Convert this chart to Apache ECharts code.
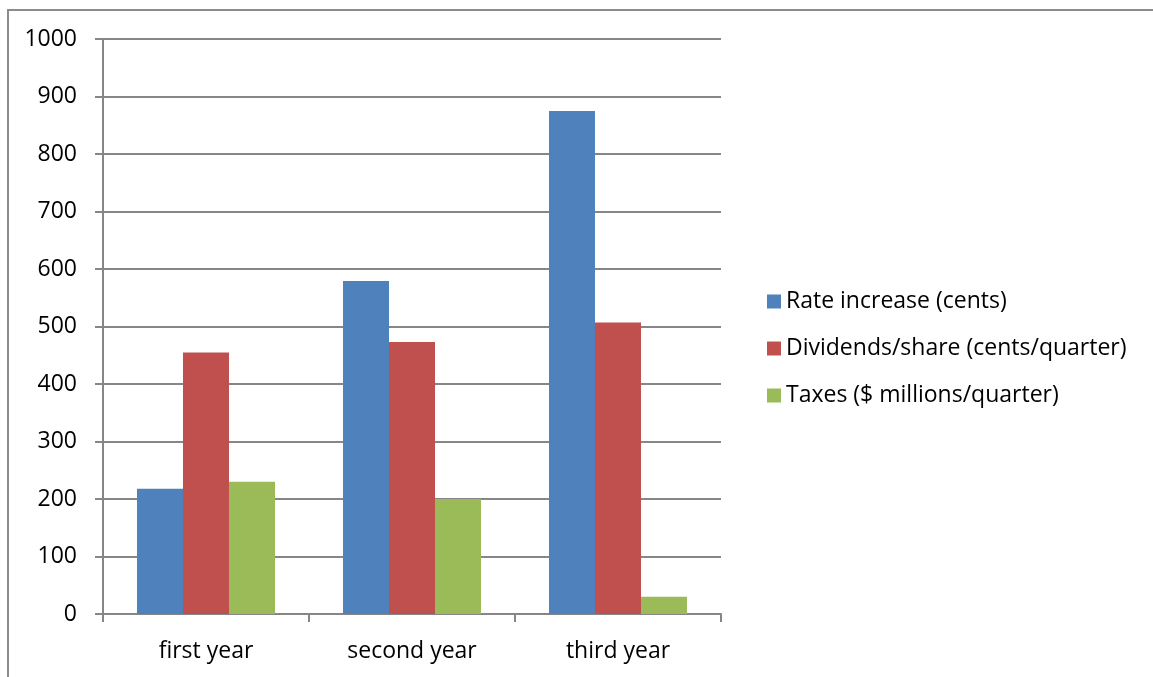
<!DOCTYPE html>
<html>
<head>
<meta charset="utf-8">
<script src="https://cdn.jsdelivr.net/npm/echarts@6/dist/echarts.min.js"></script>
<style>
    body { margin: 0; background: #fff; }
    #frame {
        position: absolute; left: 7px; top: 9px; width: 1146px; height: 668px;
        border-left: 2px solid #8c8c8c; border-top: 2px solid #8c8c8c; box-sizing: border-box;
    }
    #chart { position: absolute; left: 0; top: 0; width: 1153px; height: 677px; }
</style>
</head>
<body>
<div id="frame"></div>
<div id="chart"></div>
<script>
    var years = ['first year', 'second year', 'third year'];
    var rateIncrease = [218, 579, 875];
    var dividends = [455, 473, 507];
    var taxes = [230, 200, 30];
    var legendNames = ['Rate increase (cents)', 'Dividends/share (cents/quarter)', 'Taxes ($ millions/quarter)'];

    var chart = echarts.init(document.getElementById('chart'));
    var font = '"Open Sans", "Noto Sans", sans-serif';

    option = {
        animation: false,
        color: ['#4F81BD', '#C0504D', '#9BBB59'],
        textStyle: { fontFamily: font },
        legend: {
            orient: 'vertical',
            left: 762,
            top: 285,
            itemWidth: 14,
            itemHeight: 14,
            itemGap: 24,
            icon: 'rect',
            data: legendNames,
            textStyle: { fontSize: 23, color: '#000', fontFamily: font }
        },
        grid: {
            left: 103,
            right: 432,
            top: 39,
            bottom: 63
        },
        xAxis: {
            type: 'category',
            data: years,
            axisLine: { lineStyle: { color: '#868686', width: 2 } },
            axisTick: { show: true, length: 8, lineStyle: { color: '#868686', width: 2 } },
            axisLabel: { fontSize: 23, color: '#000', margin: 26, fontFamily: font }
        },
        yAxis: {
            type: 'value',
            min: 0,
            max: 1000,
            interval: 100,
            axisLine: { show: true, lineStyle: { color: '#868686', width: 2 } },
            axisTick: { show: true, length: 8, lineStyle: { color: '#868686', width: 2 } },
            splitLine: { lineStyle: { color: '#868686', width: 2 } },
            axisLabel: {
                fontSize: 23, color: '#000', margin: 26, fontFamily: font,
                formatter: function(v) { return String(v); }
            }
        },
        series: [{
                name: legendNames[0],
                type: 'bar',
                barGap: 0,
                barCategoryGap: '33%',
                data: rateIncrease
            },
            {
                name: legendNames[1],
                type: 'bar',
                barGap: 0,
                barCategoryGap: '33%',
                data: dividends
            },
            {
                name: legendNames[2],
                type: 'bar',
                barGap: 0,
                barCategoryGap: '33%',
                data: taxes
            }
        ]
    };
    chart.setOption(option);
</script>
</body>
</html>
